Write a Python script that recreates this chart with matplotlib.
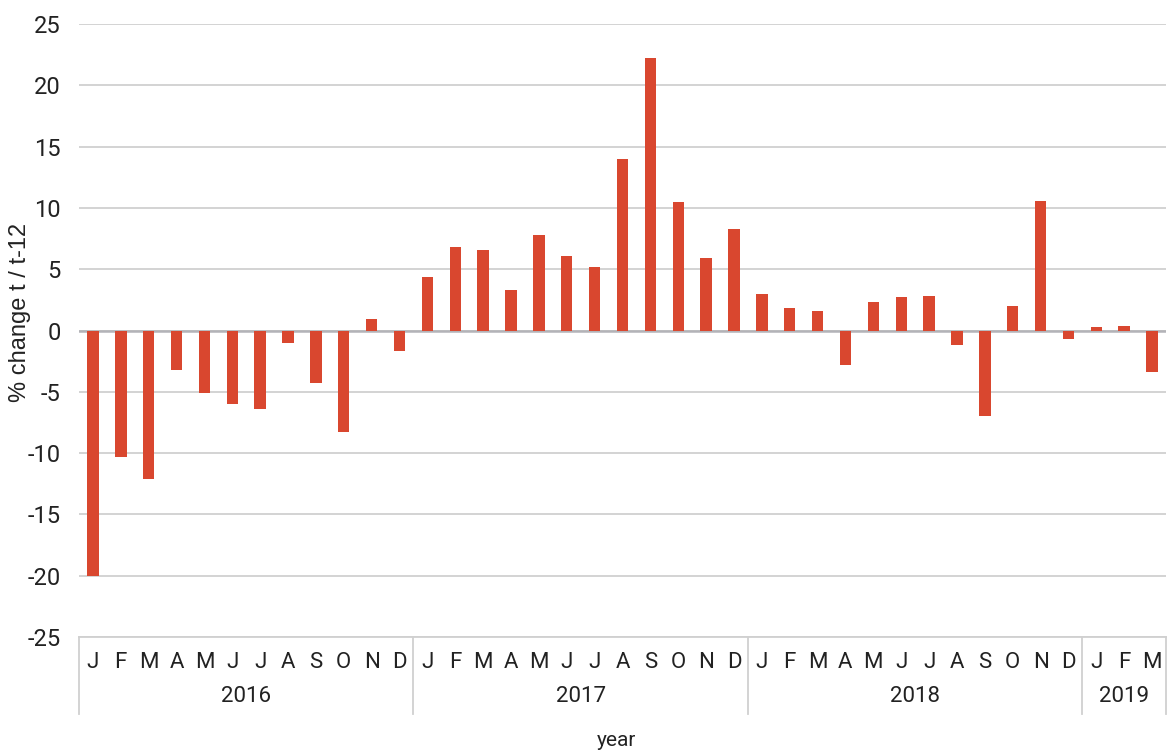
import matplotlib
matplotlib.use("Agg")
import matplotlib.pyplot as plt
from matplotlib import font_manager
import numpy as np

names = {f.name for f in font_manager.fontManager.ttflist}
NARROW = ['Liberation Sans Narrow', 'DejaVu Sans'] if 'Liberation Sans Narrow' in names else ['Roboto', 'DejaVu Sans']
WIDE = ['Liberation Sans', 'DejaVu Sans'] if 'Liberation Sans' in names else ['Noto Sans', 'DejaVu Sans']

years = ["2016", "2017", "2018", "2019"]
months_per_year = [12, 12, 12, 3]
month_letters = ["J", "F", "M", "A", "M", "J", "J", "A", "S", "O", "N", "D"]
values = [
    -20.0, -10.3, -12.1, -3.2, -5.1, -6.0, -6.4, -1.0, -4.3, -8.3, 0.95, -1.7,
    4.4, 6.8, 6.6, 3.3, 7.8, 6.1, 5.2, 14.0, 22.2, 10.5, 5.9, 8.3,
    2.95, 1.8, 1.6, -2.8, 2.3, 2.7, 2.8, -1.2, -7.0, 2.0, 10.6, -0.7,
    0.3, 0.35, -3.4,
]
yticks = [-25, -20, -15, -10, -5, 0, 5, 10, 15, 20, 25]

labels = []
for n in months_per_year:
    labels += month_letters[:n]
x = np.arange(len(values))

fig = plt.figure(figsize=(11.68, 7.51), dpi=100)
ax = fig.add_axes([79/1168, 1 - 637/751, (1166-79)/1168, (637-24)/751])

ax.bar(x, values, width=0.41, color="#d9472f", zorder=3)
ax.set_xlim(-0.5, len(values) - 0.5)
ax.set_ylim(-25, 25)
ax.set_yticks(yticks)
ax.set_yticklabels([str(t) for t in yticks], family=NARROW, fontsize=17, color="#222222")
ax.grid(axis="y", color="#d0d0d0", linewidth=1.3, zorder=0)
ax.axhline(0, color="#b3b3b8", linewidth=1.8, zorder=2)
for s in ["top", "right", "left"]:
    ax.spines[s].set_visible(False)
ax.spines["bottom"].set_color("#d0d0d0")
ax.spines["bottom"].set_linewidth(1.3)
ax.tick_params(axis="y", length=0, pad=13)
ax.set_xticks(x)
ax.set_xticklabels(labels, family=NARROW, fontsize=16, color="#222222")
ax.tick_params(axis="x", length=0, pad=11)

# year separators and labels
trans = ax.get_xaxis_transform()
bounds = np.concatenate([[0], np.cumsum(months_per_year)]) - 0.5
sep_bottom = -(714 - 637) / (637 - 24)
for b in bounds:
    ax.plot([b, b], [0, sep_bottom], transform=trans, color="#d0d0d0", linewidth=1.3, clip_on=False)
ylab_y = -(697 - 637) / (637 - 24)
for i, yr in enumerate(years):
    ax.text((bounds[i] + bounds[i + 1]) / 2, ylab_y, yr, transform=trans, ha="center", va="center",
            family=NARROW, fontsize=16, color="#222222")

fig.text(616/1168, 1 - 740/751, "year", ha="center", va="center", family=NARROW, fontsize=15, color="#222222")
fig.text(20/1168, 1 - 312/751, "% change t / t-12", rotation=90, ha="center", va="center",
         family=WIDE, fontsize=17, color="#222222")

fig.savefig("out.png", dpi=100, facecolor="white")
